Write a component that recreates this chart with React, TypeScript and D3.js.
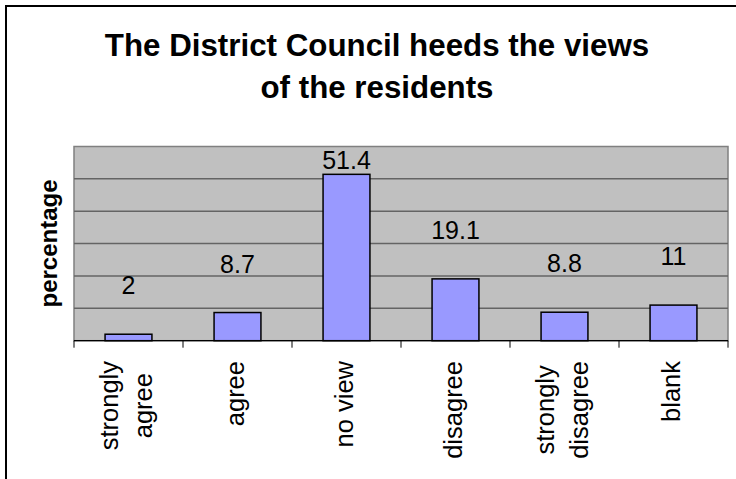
import React from "react";
import * as d3 from "d3";

const categories = ["strongly agree", "agree", "no view", "disagree", "strongly disagree", "blank"];
const categoryLines = [["strongly", "agree"], ["agree"], ["no view"], ["disagree"], ["strongly", "disagree"], ["blank"]];
const values = [2, 8.7, 51.4, 19.1, 8.8, 11];
const yTicks = [0, 10, 20, 30, 40, 50, 60];
const titleLines = ["The District Council heeds the views", "of the residents"];
const yTitle = "percentage";

const W = 736;
const H = 479;
const plot = { left: 74, right: 728, top: 146.5, bottom: 340.7 };
const FONT = "'Liberation Sans', Arial, sans-serif";
const CAT_SIZE = 25.5;

function measure(text: string, size: number, weight = "normal"): number {
  if (typeof document === "undefined") return text.length * size * 0.5;
  const c = document.createElement("canvas");
  const ctx = c.getContext("2d");
  if (!ctx) return text.length * size * 0.5;
  ctx.font = `${weight} ${size}px 'Liberation Sans', Arial, sans-serif`;
  return ctx.measureText(text).width;
}

export default function App() {
  const x = d3.scaleBand<string>().domain(categories).range([plot.left, plot.right]).paddingInner(0).paddingOuter(0);
  const y = d3.scaleLinear().domain([0, 60]).range([plot.bottom, plot.top]);
  const bw = x.bandwidth();
  const barW = bw * 0.43;
  const labelTop = 361;

  return (
    <svg width={W} height={H} style={{ position: "absolute", left: 0, top: 0, display: "block" }} fontFamily={FONT}>
      <rect x={0} y={0} width={W} height={H} fill="#ffffff" />
      <rect x={6} y={6} width={W + 20} height={H + 20} fill="none" stroke="#000" strokeWidth={2} />

      {titleLines.map((t, i) => (
        <text key={i} x={377} y={56 + i * 42} textAnchor="middle" fontSize={31.3} fontWeight="bold" fill="#000">
          {t}
        </text>
      ))}

      <rect x={plot.left} y={plot.top} width={plot.right - plot.left} height={plot.bottom - plot.top} fill="#c0c0c0" stroke="#808080" strokeWidth={1.5} />

      {yTicks.filter((t) => t > 0 && t < 60).map((t) => (
        <line key={t} x1={plot.left} x2={plot.right} y1={y(t)} y2={y(t)} stroke="#646464" strokeWidth={1.5} />
      ))}

      {values.map((v, i) => {
        const cx = (x(categories[i]) as number) + bw / 2;
        return (
          <rect key={i} x={cx - barW / 2} y={y(v)} width={barW} height={y(0) - y(v)} fill="#9999ff" stroke="#000" strokeWidth={1.5} />
        );
      })}

      <line x1={plot.left} x2={plot.right} y1={plot.bottom} y2={plot.bottom} stroke="#000" strokeWidth={1.2} />
      {[...categories.map((c) => x(c) as number), plot.right].map((tx, i) => (
        <line key={i} x1={tx} x2={tx} y1={plot.bottom} y2={plot.bottom + 7} stroke="#000" strokeWidth={1} />
      ))}

      {values.map((v, i) => {
        const cx = (x(categories[i]) as number) + bw / 2;
        const by = Math.max(y(v) - 40, plot.top + 22);
        return (
          <text key={i} x={cx} y={by} textAnchor="middle" fontSize={25} fill="#000">
            {String(v)}
          </text>
        );
      })}

      {categoryLines.map((lines, i) => {
        const cx = (x(categories[i]) as number) + bw / 2;
        if (lines.length === 1) {
          return (
            <text key={i} transform={`translate(${cx + 6},${labelTop}) rotate(-90)`} textAnchor="end" fontSize={CAT_SIZE} fill="#000">
              {lines[0]}
            </text>
          );
        }
        const maxLen = Math.max(...lines.map((l) => measure(l, CAT_SIZE)));
        const midY = labelTop + maxLen / 2;
        return (
          <g key={i}>
            {lines.map((l, j) => (
              <text key={j} transform={`translate(${cx - 11 + j * 34},${midY}) rotate(-90)`} textAnchor="middle" fontSize={CAT_SIZE} fill="#000">
                {l}
              </text>
            ))}
          </g>
        );
      })}

      <text transform={`translate(57,243.5) rotate(-90)`} textAnchor="middle" fontSize={24} fontWeight="bold" fill="#000">
        {yTitle}
      </text>
    </svg>
  );
}
